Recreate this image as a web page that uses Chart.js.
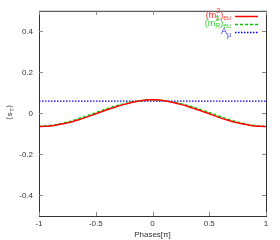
<!DOCTYPE html>
<html>
<head>
<meta charset="utf-8">
<script src="https://cdn.jsdelivr.net/npm/chart.js@4.4.1/dist/chart.umd.min.js"></script>
<style>
  html, body { margin: 0; padding: 0; background: #fff; }
  #wrap { width: 280px; height: 240px; }
</style>
</head>
<body>
<div id="wrap"><canvas id="chart"></canvas></div>
<script>
// données
var phases = [-1, -0.95, -0.9, -0.85, -0.8, -0.75, -0.7, -0.65, -0.6, -0.55, -0.5, -0.45, -0.4, -0.35, -0.3, -0.25, -0.2, -0.15, -0.1, -0.05,
              0, 0.05, 0.1, 0.15, 0.2, 0.25, 0.3, 0.35, 0.4, 0.45, 0.5, 0.55, 0.6, 0.65, 0.7, 0.75, 0.8, 0.85, 0.9, 0.95, 1];
var mL = [-0.064, -0.063, -0.061, -0.057, -0.052, -0.046, -0.039, -0.031, -0.022, -0.012, -0.002, 0.008, 0.018, 0.027, 0.036, 0.044, 0.051, 0.057, 0.062, 0.065,
          0.066, 0.065, 0.062, 0.057, 0.051, 0.044, 0.036, 0.027, 0.018, 0.008, -0.002, -0.012, -0.022, -0.031, -0.039, -0.046, -0.052, -0.057, -0.061, -0.063, -0.064];
var mR = [-0.063, -0.062, -0.059, -0.055, -0.049, -0.042, -0.034, -0.025, -0.016, -0.006, 0.004, 0.014, 0.023, 0.032, 0.040, 0.047, 0.053, 0.058, 0.062, 0.065,
          0.066, 0.065, 0.062, 0.058, 0.053, 0.047, 0.040, 0.032, 0.023, 0.014, 0.004, -0.006, -0.016, -0.025, -0.034, -0.042, -0.049, -0.055, -0.059, -0.062, -0.063];
var aMu = [0.060, 0.060, 0.060, 0.060, 0.060, 0.060, 0.060, 0.060, 0.060, 0.060, 0.060, 0.060, 0.060, 0.060, 0.060, 0.060, 0.060, 0.060, 0.060, 0.060,
           0.060, 0.060, 0.060, 0.060, 0.060, 0.060, 0.060, 0.060, 0.060, 0.060, 0.060, 0.060, 0.060, 0.060, 0.060, 0.060, 0.060, 0.060, 0.060, 0.060, 0.060];
var xTicks = [-1, -0.5, 0, 0.5, 1];
var yTicks = [-0.4, -0.2, 0, 0.2, 0.4];

var FAMILY = '"Liberation Sans", Arial, sans-serif';
var FONT = '8px ' + FAMILY;

function pts(ys) {
    return phases.map(function (x, i) { return { x: x, y: ys[i] }; });
}

// cadre + graduations intérieures façon gnuplot, et légende
var framePlugin = {
    id: 'frame',
    afterDatasetsDraw: function (chart) {
        var c = chart.ctx, a = chart.chartArea;
        var xs = chart.scales.x, ys = chart.scales.y;
        c.save();
        c.strokeStyle = '#333';
        c.lineWidth = 1;
        c.strokeRect(a.left + 0.5, a.top + 0.5, a.right - a.left, a.bottom - a.top);
        c.strokeStyle = '#888';
        xTicks.forEach(function (v) {
            var px = Math.round(xs.getPixelForValue(v)) + 0.5;
            c.beginPath();
            c.moveTo(px, a.bottom); c.lineTo(px, a.bottom - 4);
            c.moveTo(px, a.top); c.lineTo(px, a.top + 4);
            c.stroke();
        });
        yTicks.forEach(function (v) {
            var py = Math.round(ys.getPixelForValue(v)) + 0.5;
            c.beginPath();
            c.moveTo(a.left, py); c.lineTo(a.left + 4, py);
            c.moveTo(a.right, py); c.lineTo(a.right - 4, py);
            c.stroke();
        });

        // légende
        var items = [
            { base: 'm', sup: '2', sub: 'L', tail: 'eu', color: '#ff3030', line: '#ff0000', dash: [] },
            { base: 'm', sup: '2', sub: 'R', tail: 'eu', color: '#30d030', line: '#00cc00', dash: [3, 2] },
            { base: 'A', sup: '', sub: 'μ', tail: '', color: '#3030ff', line: '#0000ff', dash: [1.5, 1.5] }
        ];
        var big = '9px ' + FAMILY;
        var small = '7px ' + FAMILY;
        var textRight = 231, lineX0 = 235, lineX1 = 258;
        items.forEach(function (it, i) {
            var y = 16 + i * 8;
            c.fillStyle = it.color;
            c.textBaseline = 'middle';
            c.textAlign = 'left';
            if (it.tail) {
                // (m²_L)_eu
                c.font = big; var w1 = c.measureText('(' + it.base).width;
                c.font = small; var w2 = Math.max(c.measureText(it.sup).width, c.measureText(it.sub).width);
                c.font = big; var w3 = c.measureText(')').width;
                c.font = small; var w4 = c.measureText(it.tail).width;
                var x = textRight - (w1 + w2 + w3 + w4);
                c.font = big; c.fillText('(' + it.base, x, y); x += w1;
                c.font = small; c.fillText(it.sup, x, y - 5); c.fillText(it.sub, x, y + 2); x += w2;
                c.font = big; c.fillText(')', x, y); x += w3;
                c.font = small; c.fillText(it.tail, x, y + 2);
            } else {
                c.font = big; var wa = c.measureText(it.base).width;
                c.font = small; var wb = c.measureText(it.sub).width;
                var x2 = textRight - (wa + wb);
                c.font = big; c.fillText(it.base, x2, y);
                c.font = small; c.fillText(it.sub, x2 + wa, y + 3);
            }
            c.strokeStyle = it.line;
            c.lineWidth = 1.5;
            c.setLineDash(it.dash);
            c.beginPath();
            c.moveTo(lineX0, y + 0.5); c.lineTo(lineX1, y + 0.5);
            c.stroke();
            c.setLineDash([]);
        });

        // titre de l'axe y
        c.fillStyle = '#333';
        c.translate(10, 113);
        c.rotate(-Math.PI / 2);
        c.textAlign = 'center';
        c.textBaseline = 'middle';
        c.font = FONT;
        c.fillText('⟨s', -3, 0);
        c.font = '6px ' + FAMILY;
        c.fillText('T', 3, 2);
        c.font = FONT;
        c.fillText('⟩', 7, 0);
        c.restore();
    }
};

var tickFont = { family: FAMILY, size: 8 };

var ctx = document.getElementById('chart').getContext('2d');
var myChart = new Chart(ctx, {
    type: 'line',
    data: {
        datasets: [{
            label: '(m2L)eu',
            data: pts(mL),
            borderColor: '#ff0000',
            borderWidth: 1.5,
            pointRadius: 0,
            tension: 0.4,
            fill: false
        }, {
            label: '(m2R)eu',
            data: pts(mR),
            borderColor: '#00dd00',
            borderWidth: 1.5,
            borderDash: [3, 2],
            pointRadius: 0,
            tension: 0.4,
            fill: false
        }, {
            label: 'Aμ',
            data: pts(aMu),
            borderColor: '#0000ff',
            borderWidth: 1.2,
            borderDash: [1.5, 1.5],
            pointRadius: 0,
            fill: false
        }]
    },
    options: {
        responsive: true,
        maintainAspectRatio: false,
        animation: false,
        layout: { padding: { left: 0, right: 14, top: 9, bottom: 0 } },
        plugins: {
            legend: { display: false },
            tooltip: { enabled: false }
        },
        scales: {
            x: {
                type: 'linear',
                min: -1,
                max: 1,
                afterBuildTicks: function (s) { s.ticks = xTicks.map(function (v) { return { value: v }; }); },
                afterFit: function (s) { s.height = 24; },
                grid: { display: false, drawTicks: false },
                border: { display: false },
                ticks: { font: tickFont, color: '#333', padding: 3, maxRotation: 0, callback: function (v) { return String(v); } },
                title: { display: true, text: 'Phases[π]', font: tickFont, color: '#333', padding: { top: 0, bottom: 0 } }
            },
            y: {
                min: -0.5,
                max: 0.5,
                afterBuildTicks: function (s) { s.ticks = yTicks.map(function (v) { return { value: v }; }); },
                afterFit: function (s) { s.width = 39; },
                grid: { display: false, drawTicks: false },
                border: { display: false },
                ticks: { font: tickFont, color: '#333', padding: 6, callback: function (v) { return String(v); } }
            }
        }
    },
    plugins: [framePlugin]
});
</script>
</body>
</html>
